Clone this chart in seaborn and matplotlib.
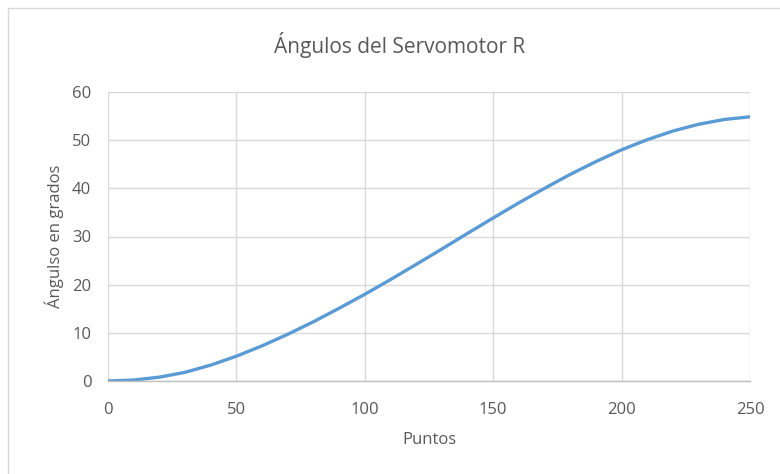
import matplotlib
matplotlib.use("Agg")
import matplotlib.pyplot as plt
from matplotlib.patches import Rectangle
import pandas as pd
import seaborn as sns

# Servo R angle per trajectory point
puntos = [0, 10, 20, 30, 40, 50, 60, 70, 80, 90, 100, 110, 120, 130, 140,
          150, 160, 170, 180, 190, 200, 210, 220, 230, 240, 250]
angulos = [0.0, 0.2, 0.8, 1.8, 3.3, 5.15, 7.3, 9.7, 12.3, 15.1, 18.0, 21.05,
           24.2, 27.4, 30.65, 33.85, 37.0, 40.0, 42.9, 45.55, 48.0, 50.1,
           51.9, 53.3, 54.3, 54.85]
x_ticks = [0, 50, 100, 150, 200, 250]
y_ticks = [0, 10, 20, 30, 40, 50, 60]

titulo = "Ángulos del Servomotor R"
etiqueta_x = "Puntos"
etiqueta_y = "Ángulso en grados"

df = pd.DataFrame({"Puntos": puntos, "Angulo": angulos})

sns.set_style("white")
plt.rcParams["font.family"] = ["Open Sans", "DejaVu Sans"]

W, H = 780, 474
fig = plt.figure(figsize=(W / 100, H / 100), dpi=100)
ax = fig.add_axes([108 / W, 1 - 381 / H, (750 - 108) / W, (381 - 92) / H])

# Outer chart frame
fig.patches.append(Rectangle((7.5 / W, -0.1), 1.2, 1 - 7.5 / H + 0.1,
                             transform=fig.transFigure, fill=False,
                             edgecolor="#d9d9d9", linewidth=1.0, zorder=0))

sns.lineplot(data=df, x="Puntos", y="Angulo", ax=ax, color="#5B9BD5",
             linewidth=2.4, solid_capstyle="butt", solid_joinstyle="round")

ax.set_xlim(0, 250)
ax.set_ylim(0, 60)
ax.set_xticks(x_ticks)
ax.set_yticks(y_ticks)
ax.grid(True, color="#d9d9d9", linewidth=1.0)
ax.set_axisbelow(True)
for side in ["top", "right", "left"]:
    ax.spines[side].set_visible(False)
ax.spines["bottom"].set_color("#bfbfbf")
ax.spines["bottom"].set_linewidth(1.0)

text_color = "#595959"
ax.tick_params(axis="both", length=0, labelsize=12, labelcolor=text_color)
ax.tick_params(axis="y", pad=12)
ax.tick_params(axis="x", pad=15)

ax.set_xlabel(etiqueta_x, fontsize=12, color=text_color, labelpad=10)
ax.set_ylabel(etiqueta_y, fontsize=12, color=text_color, labelpad=6)

fig.text(400 / W, 1 - 45 / H, titulo, ha="center", va="center",
         fontsize=15, color=text_color)

fig.savefig("out.png", dpi=100, facecolor="white")
